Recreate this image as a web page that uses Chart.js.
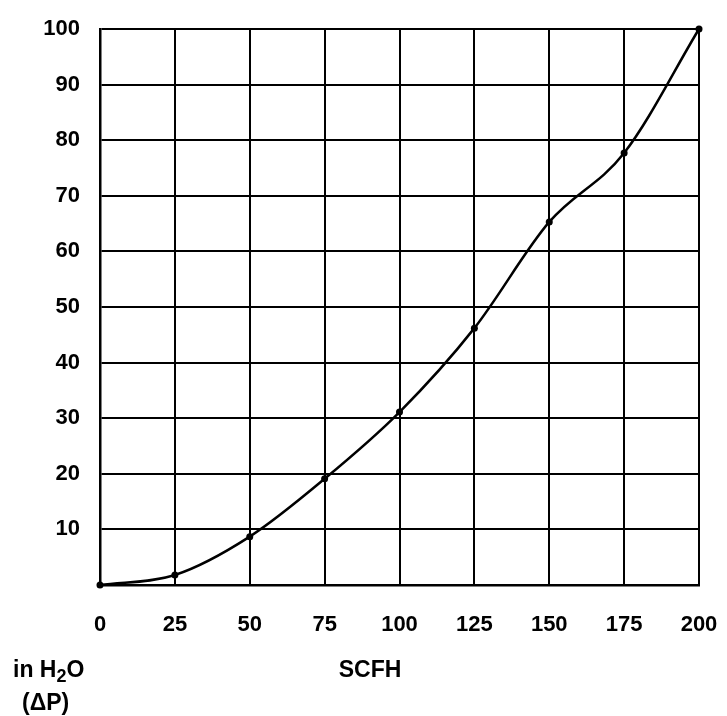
<!DOCTYPE html>
<html>
<head>
<meta charset="utf-8">
<script src="https://cdn.jsdelivr.net/npm/chart.js@4"></script>
<style>
  html, body { margin: 0; padding: 0; background: #fff; }
  #c { display: block; }
</style>
</head>
<body>
<canvas id="c" width="727" height="716"></canvas>
<script>
// Data
const flowSCFH = [0, 25, 50, 75, 100, 125, 150, 175, 200];
const pressureInH2O = [0, 1.8, 8.7, 19.1, 31.1, 46.2, 65.3, 77.7, 100];
const xTicks = [0, 25, 50, 75, 100, 125, 150, 175, 200];
const yTicks = [0, 10, 20, 30, 40, 50, 60, 70, 80, 90, 100];
const xAxisLabel = 'SCFH';
const yAxisLabelLine1 = 'in H';
const yAxisLabelSub = '2';
const yAxisLabelEnd = 'O';
const yAxisLabelLine2 = '(ΔP)';

const FONT = '"Liberation Sans", Arial, Helvetica, sans-serif';

const labelsPlugin = {
  id: 'cornerLabels',
  afterDraw(chart) {
    const ctx = chart.ctx;
    const area = chart.chartArea;
    ctx.save();
    ctx.fillStyle = '#000';
    ctx.textBaseline = 'alphabetic';
    ctx.font = 'bold 23px ' + FONT;
    const base1 = area.bottom + 92;
    // "in H2O"
    let x = 13;
    ctx.textAlign = 'left';
    ctx.fillText(yAxisLabelLine1, x, base1);
    x += ctx.measureText(yAxisLabelLine1).width;
    ctx.font = 'bold 18px ' + FONT;
    ctx.fillText(yAxisLabelSub, x, base1 + 5);
    x += ctx.measureText(yAxisLabelSub).width;
    ctx.font = 'bold 23px ' + FONT;
    ctx.fillText(yAxisLabelEnd, x, base1);
    // "(ΔP)"
    ctx.fillText(yAxisLabelLine2, 22, base1 + 33);
    // SCFH
    ctx.textAlign = 'center';
    ctx.fillText(xAxisLabel, 370, base1);
    ctx.restore();
  }
};

new Chart(document.getElementById('c'), {
  type: 'line',
  data: {
    datasets: [{
      data: flowSCFH.map((x, i) => ({ x: x, y: pressureInH2O[i] })),
      borderColor: '#000',
      backgroundColor: '#000',
      borderWidth: 2.5,
      pointRadius: 3.5,
      pointBorderWidth: 0,
      pointBackgroundColor: '#000',
      cubicInterpolationMode: 'monotone',
      fill: false,
      clip: false
    }]
  },
  options: {
    responsive: false,
    animation: false,
    devicePixelRatio: 1,
    layout: { padding: { top: 29, right: 28, left: 0, bottom: 0 } },
    plugins: {
      legend: { display: false },
      tooltip: { enabled: false }
    },
    scales: {
      x: {
        type: 'linear',
        min: 0,
        max: 200,
        afterBuildTicks(scale) { scale.ticks = xTicks.map(v => ({ value: v })); },
        afterFit(scale) {
          scale.height = 131;
          scale.paddingLeft = 0;
          scale.paddingRight = 0;
        },
        grid: { color: '#000', lineWidth: 2, drawTicks: false },
        border: { color: '#000', width: 2.5 },
        ticks: {
          color: '#000',
          padding: 27,
          maxRotation: 0,
          autoSkip: false,
          font: { family: FONT, size: 22, weight: 'bold' }
        }
      },
      y: {
        type: 'linear',
        min: 0,
        max: 100,
        afterBuildTicks(scale) { scale.ticks = yTicks.map(v => ({ value: v })); },
        afterFit(scale) {
          scale.width = 100;
          scale.paddingTop = 0;
          scale.paddingBottom = 0;
        },
        grid: { color: '#000', lineWidth: 2, drawTicks: false },
        border: { color: '#000', width: 2.5 },
        ticks: {
          color: '#000',
          padding: 20,
          autoSkip: false,
          font: { family: FONT, size: 22, weight: 'bold' },
          callback: (v) => (v === 0 ? '' : String(v))
        }
      }
    }
  },
  plugins: [labelsPlugin]
});
</script>
</body>
</html>
